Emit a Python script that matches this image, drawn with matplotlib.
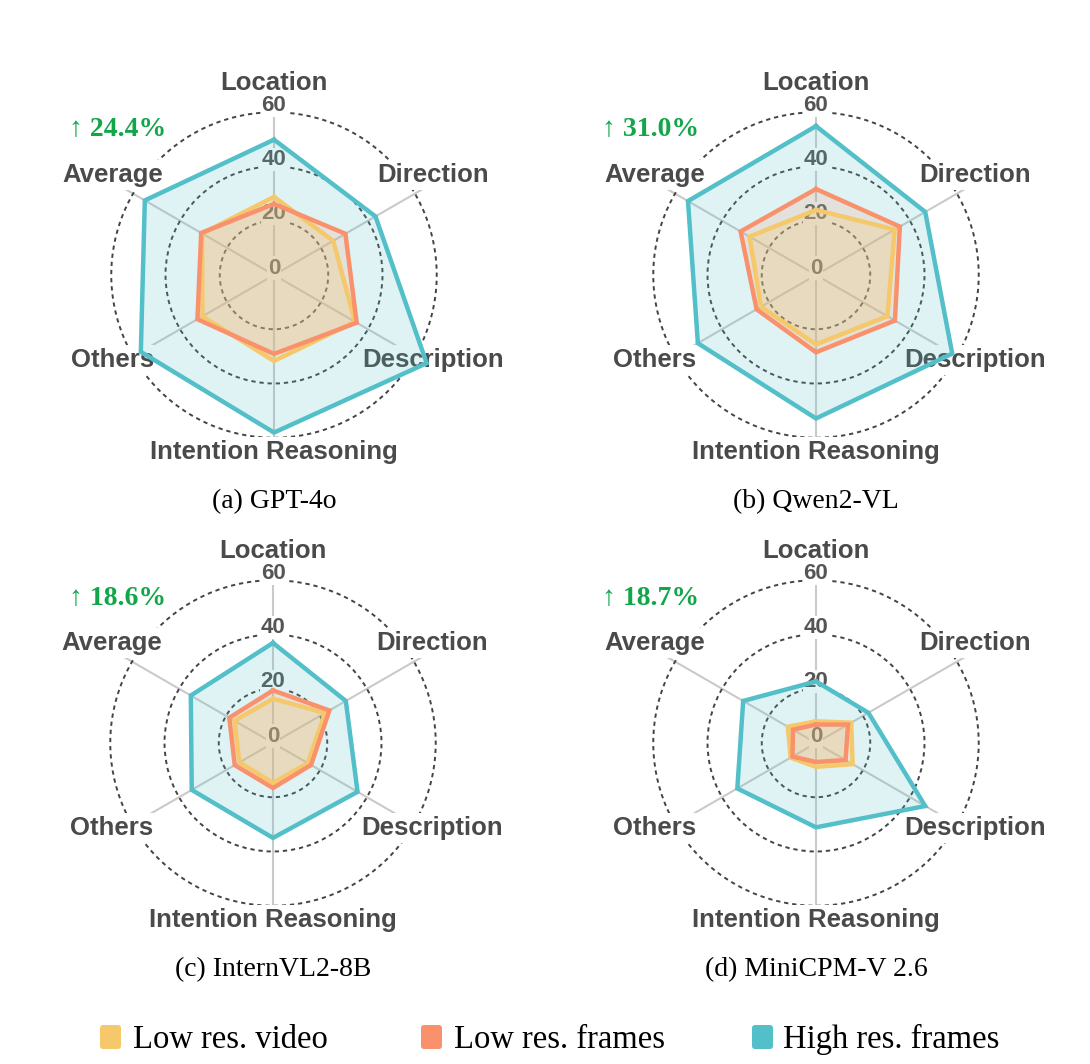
import numpy as np
import matplotlib
matplotlib.use('Agg')
import matplotlib.pyplot as plt
from matplotlib.patches import FancyBboxPatch

# axes, clockwise from the top
categories = ['Location', 'Direction', 'Description', 'Intention Reasoning', 'Others', 'Average']
models = ['(a) GPT-4o', '(b) Qwen2-VL', '(c) InternVL2-8B', '(d) MiniCPM-V 2.6']
gains = ['\u2191 24.4%', '\u2191 31.0%', '\u2191 18.6%', '\u2191 18.7%']
series_names = ['Low res. video', 'Low res. frames', 'High res. frames']
colors = ['#f5c86c', '#f9916c', '#52bfc9']
r_ticks = [0, 20, 40, 60]

# one row per model, values in category order
low_video = [
    [28.8, 25.2, 34.5, 31.7, 30.5, 30.6],
    [24.0, 33.5, 30.4, 25.6, 23.4, 28.3],
    [16.3, 22.2, 14.8, 14.7, 14.3, 16.4],
    [8.0, 15.0, 15.6, 8.8, 10.8, 12.0],
]
low_frames = [
    [26.2, 30.4, 35.2, 29.1, 32.6, 31.0],
    [31.7, 35.7, 33.6, 28.5, 25.3, 32.1],
    [19.4, 24.0, 16.2, 16.6, 16.3, 18.6],
    [6.8, 13.6, 12.6, 7.0, 10.0, 9.8],
]
high_frames = [
    [49.9, 43.2, 65.0, 58.1, 56.7, 55.0],
    [54.9, 46.5, 58.0, 52.9, 50.3, 54.5],
    [36.9, 31.0, 36.0, 35.0, 34.6, 35.0],
    [22.7, 22.3, 46.5, 31.1, 33.5, 31.0],
]

W, H = 1090, 1064
fig = plt.figure(figsize=(W / 100, H / 100), dpi=100)
fig.patch.set_facecolor('white')

label_font = 'Liberation Sans'
serif = ['Liberation Serif', 'DejaVu Serif']
gray_txt = '#4a4a4a'

centers = [(274, 275), (816, 275), (273, 743), (816, 743)]
half = 179
# label baselines relative to the centre (pixels, up is positive)
label_offsets = [(0, 185), (159, 93), (159, -92), (0, -184), (-161, -92), (-161, 93)]

angles = np.arange(len(categories)) * 2 * np.pi / len(categories)
angles_closed = np.append(angles, angles[0])

# fill strength and stacking of each series (teal at the bottom)
fill_alpha = [0.25, 0.18, 0.18]
fill_z = [1.02, 1.01, 1.0]


def fx(x):
    return x / W


def fy(y):
    return 1 - y / H


for i, (cx, cy) in enumerate(centers):
    ax = fig.add_axes([fx(cx - half), fy(cy + half), 2 * half / W, 2 * half / H],
                      projection='polar')
    ax.set_theta_offset(np.pi / 2)
    ax.set_theta_direction(-1)
    ax.set_ylim(0, 66)
    ax.set_axisbelow(True)
    ax.set_xticks(angles)
    ax.set_xticklabels([])
    ax.set_yticks(r_ticks[1:])
    ax.set_yticklabels([])
    ax.xaxis.grid(True, color='#cacaca', lw=1.5, ls='-')
    ax.yaxis.grid(True, color='#444444', lw=1.4, ls=(0, (2.2, 2)))
    ax.spines['polar'].set_visible(False)

    series = [low_video[i], low_frames[i], high_frames[i]]
    for vals, c, a, z in zip(series, colors, fill_alpha, fill_z):
        v = np.append(vals, vals[0])
        ax.fill(angles_closed, v, color=c, alpha=a, lw=0, zorder=z)
        ax.plot(angles_closed, v, color=c, lw=3.2, zorder=2, solid_joinstyle='miter')

    for name, (dx, dy) in zip(categories, label_offsets):
        ax.annotate(name, xy=(0, 0), xytext=(dx, dy), textcoords='offset pixels',
                    ha='center', va='baseline', fontsize=18.5, fontweight='bold',
                    family=label_font, color=gray_txt, zorder=0.8,
                    bbox=dict(boxstyle='square,pad=0.12', fc='white', ec='none'))

    for r in r_ticks:
        ax.annotate(str(r), xy=(0, r), xytext=(0, 1.5), textcoords='offset pixels',
                    ha='center', va='baseline', fontsize=16, fontweight='bold',
                    family=label_font, color='#555555', zorder=0.8,
                    bbox=dict(boxstyle='square,pad=0.05', fc='white', ec='none'))

    gx = 69 if cx < 500 else 602
    gy = 136 if cy < 500 else 605
    fig.text(fx(gx), fy(gy), gains[i], ha='left', va='baseline', fontsize=20,
             fontweight='bold', family=serif, color='#12a64a')

    fig.text(fx(cx), fy(cy + 233), models[i], ha='center', va='baseline',
             fontsize=20, family=serif, color='black')

# legend along the bottom
patch_x = [100, 421, 752]
text_x = [133, 454, 783]
for px, tx, name, c in zip(patch_x, text_x, series_names, colors):
    fig.add_artist(FancyBboxPatch((fx(px), fy(1049)), 21 / W, 24 / H,
                                  boxstyle='round,pad=0,rounding_size=0.003',
                                  transform=fig.transFigure, fc=c, ec='none'))
    fig.text(fx(tx), fy(1048), name, ha='left', va='baseline', fontsize=23.5,
             family=serif, color='black')

fig.savefig('out.png', dpi=100, facecolor='white')
